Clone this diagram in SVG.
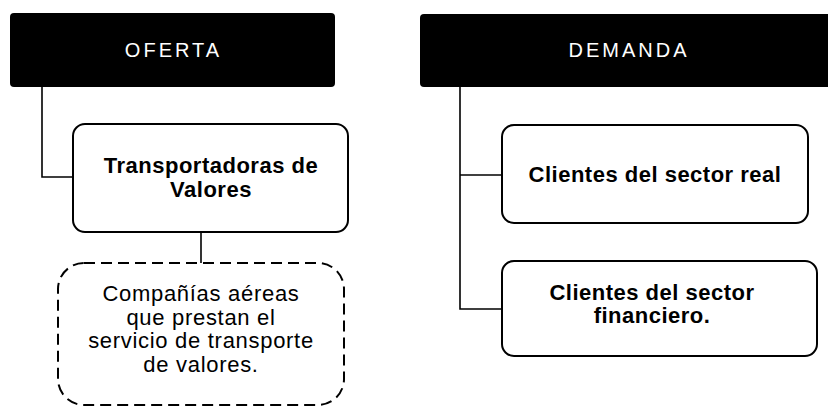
<svg xmlns="http://www.w3.org/2000/svg" width="828" height="408" viewBox="0 0 828 408">
<style>
.hdr{fill:#000;}
.hdrt{font-family:"Liberation Sans",Arial,sans-serif;font-size:20px;fill:#fff;letter-spacing:3px;text-anchor:middle;}
.box{fill:#fff;stroke:#000;stroke-width:2;}
.dash{fill:#fff;stroke:#000;stroke-width:2;stroke-dasharray:11 6;}
.bt{font-family:"Liberation Sans",Arial,sans-serif;font-size:22px;font-weight:bold;fill:#000;letter-spacing:0.5px;text-anchor:middle;}
.rt{font-family:"Liberation Sans",Arial,sans-serif;font-size:22px;fill:#000;letter-spacing:0.7px;text-anchor:middle;}
.con{fill:none;stroke:#000;stroke-width:1.6;}
</style>
<rect width="828" height="408" fill="#fff"/>
<g id="connectors">
<polyline class="con" points="42,87 42,177 73,177"/>
<line class="con" x1="201" y1="232" x2="201" y2="263"/>
<polyline class="con" points="460,87 460,309 502,309"/>
<line class="con" x1="460" y1="175" x2="502" y2="175"/>
</g>
<g id="oferta">
<rect class="hdr" x="10" y="13" width="325" height="74" rx="4"/>
<text class="hdrt" x="173.5" y="57">OFERTA</text>
</g>
<g id="demanda">
<rect class="hdr" x="420" y="14" width="420" height="73" rx="4"/>
<text class="hdrt" x="629" y="57">DEMANDA</text>
</g>
<g id="transportadoras">
<rect class="box" x="73" y="124" width="275" height="108" rx="12"/>
<text class="bt" x="211" y="173">Transportadoras de</text>
<text class="bt" x="211" y="197">Valores</text>
</g>
<g id="companias">
<rect class="dash" x="58" y="263" width="286" height="142" rx="26"/>
<text class="rt" x="201" y="301">Compañías aéreas</text>
<text class="rt" x="201" y="324.5">que prestan el</text>
<text class="rt" x="201" y="348">servicio de transporte</text>
<text class="rt" x="201" y="371.5">de valores.</text>
</g>
<g id="sector-real">
<rect class="box" x="502" y="125" width="306" height="98" rx="12"/>
<text class="bt" x="655" y="182">Clientes del sector real</text>
</g>
<g id="sector-financiero">
<rect class="box" x="502" y="261" width="315" height="95" rx="12"/>
<text class="bt" x="652" y="300">Clientes del sector</text>
<text class="bt" x="652" y="323">financiero.</text>
</g>
</svg>
